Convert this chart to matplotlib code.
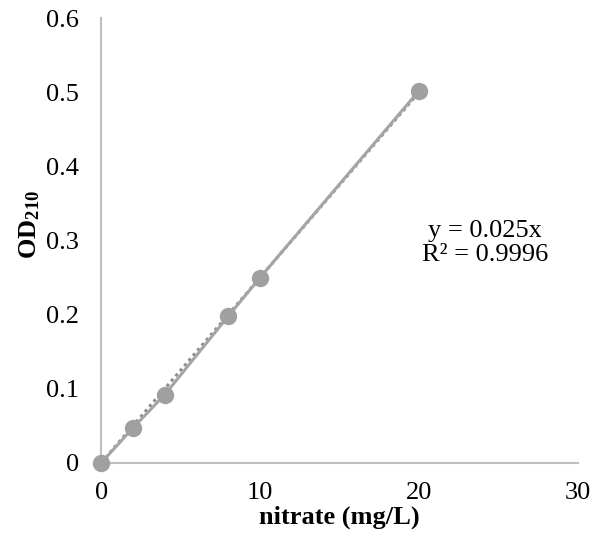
import numpy as np
import matplotlib.pyplot as plt

plt.rcParams['font.family'] = ['Liberation Serif', 'DejaVu Serif']
plt.rcParams['mathtext.fontset'] = 'custom'
plt.rcParams['mathtext.rm'] = 'Liberation Serif'
plt.rcParams['mathtext.bf'] = 'Liberation Serif:bold'

nitrate = [0, 2, 4, 8, 10, 20]
od210 = [0, 0.047, 0.092, 0.198, 0.25, 0.502]
slope = 0.025
x_ticks = [0, 10, 20, 30]
y_ticks = [0, 0.1, 0.2, 0.3, 0.4, 0.5, 0.6]
y_ticklabels = ['0', '0.1', '0.2', '0.3', '0.4', '0.5', '0.6']

fig = plt.figure(figsize=(5.95, 5.37), dpi=100)
ax = fig.add_axes([0.170, 0.138, 0.801, 0.828])

# dotted linear trendline under the series
trend_x = np.array([nitrate[0], nitrate[-1]])
ax.plot(trend_x, slope * trend_x, color='#8c8c8c', linestyle=(0, (1, 1.2)),
        linewidth=2.2, zorder=2)
ax.plot(nitrate, od210, color='#a5a5a5', linewidth=2.2, marker='o',
        markersize=11.5, markerfacecolor='#a0a0a0', markeredgecolor='#a0a0a0',
        zorder=3, clip_on=False)

ax.set_xlim(0, 30)
ax.set_ylim(0, 0.6)
ax.set_xticks(x_ticks)
ax.set_yticks(y_ticks)
ax.set_yticklabels(y_ticklabels)

for side in ['top', 'right']:
    ax.spines[side].set_visible(False)
for side in ['left', 'bottom']:
    ax.spines[side].set_color('#bfbfbf')
    ax.spines[side].set_linewidth(1.5)
ax.tick_params(axis='both', length=0, labelsize=19)
ax.tick_params(axis='x', pad=14)
ax.tick_params(axis='y', pad=16)

ax.set_xlabel('nitrate (mg/L)', fontsize=19, fontweight='bold')
ax.xaxis.set_label_coords(0.5, -0.097)
ax.set_ylabel(r'$\mathbf{OD_{210}}$', fontsize=19)
ax.yaxis.set_label_coords(-0.124, 0.535)

ax.text(24.15, 0.2966, 'y = 0.025x\nR² = 0.9996', fontsize=19,
        ha='center', va='center', linespacing=1.12)

fig.savefig('out.png', dpi=100)
